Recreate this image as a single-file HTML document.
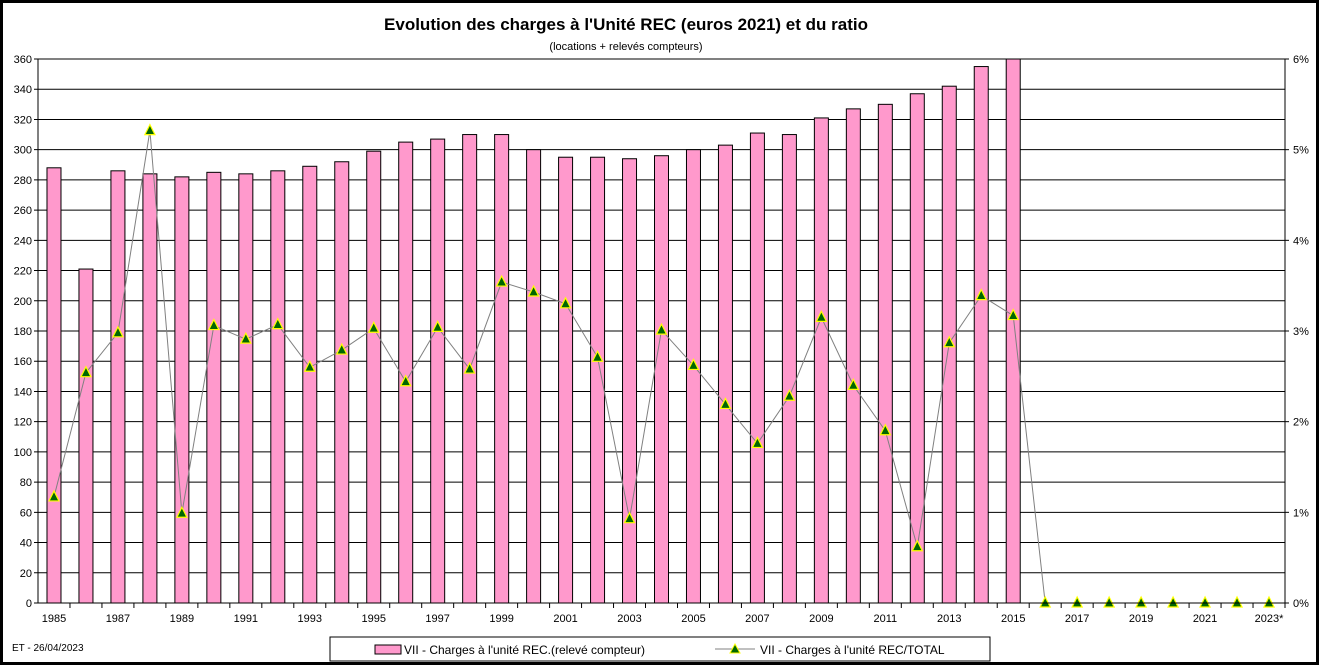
<!DOCTYPE html>
<html><head><meta charset="utf-8"><style>
body{margin:0;background:#fff;}
svg text{font-family:"Liberation Sans",Arial,sans-serif;}
</style></head><body>
<svg id="chart" width="1319" height="665" xmlns="http://www.w3.org/2000/svg">
<rect x="1.5" y="1.5" width="1316" height="662" fill="#fff" stroke="#000" stroke-width="3"/>
<text x="626" y="30" text-anchor="middle" font-size="17" font-weight="bold">Evolution des charges à l'Unité REC (euros 2021) et du ratio</text>
<text x="626" y="50" text-anchor="middle" font-size="11">(locations + relevés compteurs)</text>
<g id="grid"></g><g id="bars"></g><g id="line"></g><g id="axes"></g>
<text x="12" y="651" font-size="10">ET -  26/04/2023</text>
<g>
<rect x="330" y="637" width="660" height="24" fill="#fff" stroke="#000"/>
<rect x="375" y="645" width="26" height="9" fill="#ff99cc" stroke="#000"/>
<text x="404" y="654" font-size="12">VII - Charges à l'unité REC.(relevé  compteur)</text>
<line x1="715" y1="649" x2="755" y2="649" stroke="#808080"/>
<polygon points="735,644 740,653 730,653" fill="#006600" stroke="#ffff00"/>
<text x="760" y="654" font-size="12">VII - Charges à l'unité REC/TOTAL</text>
</g>
</svg>
<script>
const categories=["1985","1986","1987","1988","1989","1990","1991","1992","1993","1994","1995","1996","1997","1998","1999","2000","2001","2002","2003","2004","2005","2006","2007","2008","2009","2010","2011","2012","2013","2014","2015","2016","2017","2018","2019","2020","2021","2022","2023*"];
const charges=[288,221,286,284,282,285,284,286,289,292,299,305,307,310,310,300,295,295,294,296,300,303,311,310,321,327,330,337,342,355,360,null,null,null,null,null,null,null,null];
const ratio=[1.17,2.54,2.98,5.21,0.99,3.06,2.91,3.07,2.60,2.79,3.03,2.44,3.04,2.58,3.54,3.43,3.30,2.71,0.93,3.01,2.62,2.19,1.76,2.28,3.15,2.40,1.90,0.62,2.87,3.39,3.17,0,0,0,0,0,0,0,0];
const leftTicks=[0,20,40,60,80,100,120,140,160,180,200,220,240,260,280,300,320,340,360];
const rightTicks=[0,1,2,3,4,5,6];
const NS="http://www.w3.org/2000/svg";
const X0=38,X1=1285,Y0=603,Y1=59;
const bw=(X1-X0)/categories.length;
const xc=i=>X0+bw*(i+0.5);
const yL=v=>Y0-(v/360)*(Y0-Y1);
const yR=v=>Y0-(v/6)*(Y0-Y1);
function mk(tag,attrs,parent,txt){const e=document.createElementNS(NS,tag);for(const k in attrs)e.setAttribute(k,attrs[k]);if(txt!==undefined)e.textContent=txt;document.getElementById(parent).appendChild(e);return e;}
leftTicks.forEach(t=>{
 const l=mk('line',{x1:X0-4,x2:X1,y1:yL(t),y2:yL(t),stroke:'#000','stroke-width':1},'grid');
 
 
 const tx=mk('text',{x:X0-6,y:yL(t)+4,'text-anchor':'end','font-size':11},'axes',String(t));
 
 
});
rightTicks.forEach(t=>{
 const l=mk('line',{x1:X1,x2:X1+4,y1:yR(t),y2:yR(t),stroke:'#000'},'axes');
 
 
 const tx=mk('text',{x:X1+8,y:yR(t)+4,'font-size':11},'axes',t+'%');
 
 
});
charges.forEach((v,i)=>{
 if(v==null)return;
 const r=mk('rect',{x:xc(i)-7,y:yL(v),width:14,height:Y0-yL(v),fill:'#ff99cc',stroke:'#000','stroke-width':1},'bars');
 
 
});
const pts=ratio.map((v,i)=>xc(i)+','+yR(v)).join(' ');
const pl=mk('polyline',{points:pts,fill:'none',stroke:'#808080','stroke-width':1},'line');


ratio.forEach((v,i)=>{
 const x=xc(i),y=yR(v);
 const p=mk('polygon',{points:`${x},${y-6} ${x+5},${y+4} ${x-5},${y+4}`,fill:'#006600',stroke:'#ffff00','stroke-width':1.2},'line');
 
 
});
const ax=mk('line',{x1:X0,x2:X0,y1:Y1,y2:Y0,stroke:'#000'},'axes');


const ax2=mk('line',{x1:X1,x2:X1,y1:Y1,y2:Y0,stroke:'#000'},'axes');


const ax3=mk('line',{x1:X0,x2:X1,y1:Y0,y2:Y0,stroke:'#000'},'axes');


categories.forEach((c,i)=>{
 const t=mk('line',{x1:X0+bw*(i+1),x2:X0+bw*(i+1),y1:Y0,y2:Y0+5,stroke:'#000'},'axes');
 
 
 if(i%2===0){
  const tx=mk('text',{x:xc(i),y:Y0+19,'text-anchor':'middle','font-size':11},'axes',c);
  
  
 }
});
</script>
</body></html>
